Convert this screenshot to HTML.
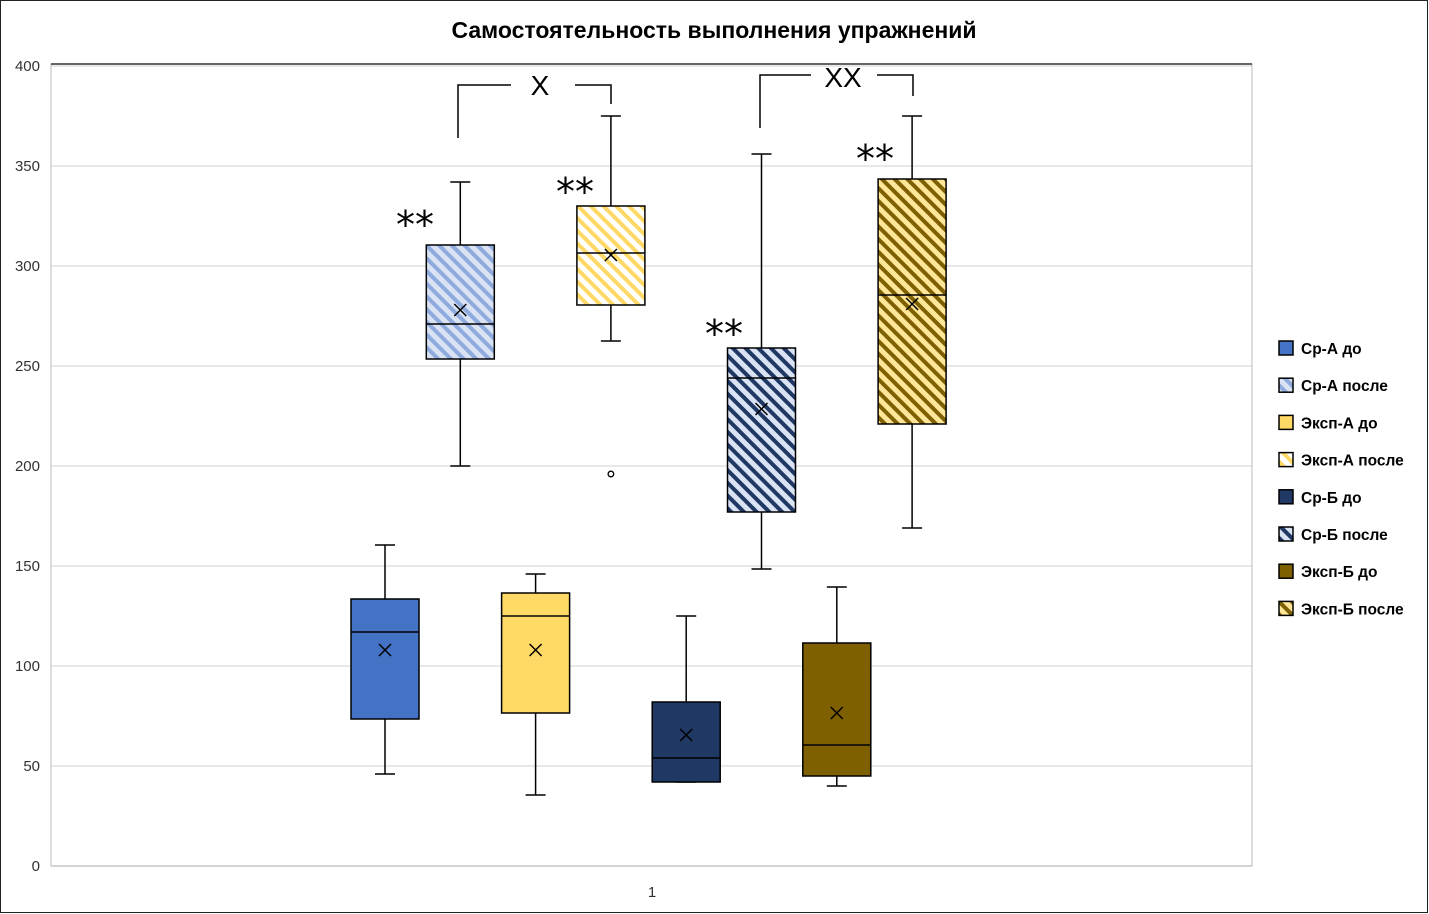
<!DOCTYPE html>
<html><head><meta charset="utf-8"><style>
body{margin:0;background:#fff}
svg{display:block;font-family:"Liberation Sans","DejaVu Sans",sans-serif}
</style></head><body>
<svg id="c" width="1429" height="914" viewBox="0 0 1429 914">
<defs>
<pattern id="hA" width="9" height="9" patternUnits="userSpaceOnUse" patternTransform="rotate(-45)"><rect width="9" height="9" fill="#DAE3F3"/><rect width="4" height="9" fill="#8FAADC"/></pattern>
<pattern id="hEA" width="9" height="9" patternUnits="userSpaceOnUse" patternTransform="rotate(-45)"><rect width="9" height="9" fill="#fff"/><rect width="4" height="9" fill="#FFD966"/></pattern>
<pattern id="hB" width="9" height="9" patternUnits="userSpaceOnUse" patternTransform="rotate(-45)"><rect width="9" height="9" fill="#DAE3F3"/><rect width="4" height="9" fill="#203864"/></pattern>
<pattern id="hEB" width="9" height="9" patternUnits="userSpaceOnUse" patternTransform="rotate(-45)"><rect width="9" height="9" fill="#FFE699"/><rect width="4" height="9" fill="#7F6000"/></pattern>
</defs>
<rect x="0.5" y="0.5" width="1427" height="912" fill="#fff" stroke="#222"/>
<text x="714" y="38" text-anchor="middle" font-size="23" font-weight="bold">Самостоятельность выполнения упражнений</text>
<g id="grid"></g>
<g id="boxes"></g>
<g id="legend"></g>
<g fill="none" stroke="#000" stroke-width="1.5">
<path d="M458,138 V85 H511 M575,85 H611 V104"/>
<path d="M760,128 V75 H811 M877,75 H913 V96"/>
</g>
<g font-size="28">
<text x="540" y="95" text-anchor="middle">X</text>
<text x="843" y="87" text-anchor="middle">XX</text>
<g font-family="DejaVu Sans, sans-serif" font-size="38">
<text x="415" y="238" text-anchor="middle">**</text>
<text x="575" y="205" text-anchor="middle">**</text>
<text x="724" y="347" text-anchor="middle">**</text>
<text x="875" y="172" text-anchor="middle">**</text>
</g>
</g>
</svg>
<script>
const seriesNames=["Ср-А до","Ср-А после","Эксп-А до","Эксп-А после","Ср-Б до","Ср-Б после","Эксп-Б до","Эксп-Б после"];
const minVals=[46,200,35.5,262.5,42,148.5,40,169];
const q1Vals=[73.5,253.5,76.5,280.5,42,177,45,221];
const medianVals=[117,271,125,306.5,54,244,60.5,285.5];
const q3Vals=[133.5,310.5,136.5,330,82,259,111.5,343.5];
const maxVals=[160.5,342,146,375,125,356,139.5,375];
const meanVals=[108,278,108,305.5,65.5,228.5,76.5,281];
const outliers=[[3,196]];
const yTicks=[0,50,100,150,200,250,300,350,400];
const fills=["#4472C4","url(#hA)","#FFD966","url(#hEA)","#203864","url(#hB)","#7F6000","url(#hEB)"];
const NS="http://www.w3.org/2000/svg";
const L=51,R=1252,T=66,B=866;
const y=v=>B-(v/400)*(B-T);
const xc=i=>385+i*75.3;
function mk(p,tag,a){const e=document.createElementNS(NS,tag);for(const k in a)e.setAttribute(k,a[k]);p.appendChild(e);return e;}
const g=document.getElementById('grid');
yTicks.forEach(t=>{
 const l=mk(g,'line',{x1:L,x2:R,y1:y(t),y2:y(t),stroke:t===0?'#bbb':'#d9d9d9','stroke-width':1.3});
 
 
 const tx=mk(g,'text',{x:40,y:y(t)+5,'text-anchor':'end','font-size':15,fill:'#333'});tx.textContent=t;
 
 
});
const pa=mk(g,'rect',{x:L,y:T-2,width:R-L,height:B-T+2,fill:'none',stroke:'#bbb'});


mk(g,'line',{x1:L,x2:R,y1:T-2,y2:T-2,stroke:'#333','stroke-width':1.5});
const xl=mk(g,'text',{x:652,y:897,'text-anchor':'middle','font-size':15,fill:'#333'});xl.textContent='1';


const bg=document.getElementById('boxes');
seriesNames.forEach((n,i)=>{
 const c=xc(i),w=34;
 const gr=mk(bg,'g',{stroke:'#000','stroke-width':1.5,fill:'none'});
 
 
 mk(gr,'line',{x1:c,x2:c,y1:y(maxVals[i]),y2:y(q3Vals[i])});
 mk(gr,'line',{x1:c,x2:c,y1:y(q1Vals[i]),y2:y(minVals[i])});
 mk(gr,'line',{x1:c-10,x2:c+10,y1:y(maxVals[i]),y2:y(maxVals[i])});
 mk(gr,'line',{x1:c-10,x2:c+10,y1:y(minVals[i]),y2:y(minVals[i])});
 mk(gr,'rect',{x:c-w,y:y(q3Vals[i]),width:2*w,height:y(q1Vals[i])-y(q3Vals[i]),fill:fills[i]});
 mk(gr,'line',{x1:c-w,x2:c+w,y1:y(medianVals[i]),y2:y(medianVals[i])});
 const m=y(meanVals[i]);
 mk(gr,'path',{d:`M${c-6},${m-6}L${c+6},${m+6}M${c+6},${m-6}L${c-6},${m+6}`});
});
outliers.forEach(o=>{
 const e=mk(bg,'circle',{cx:xc(o[0]),cy:y(o[1]),r:2.8,fill:'#fff',stroke:'#000','stroke-width':1.3});
 
 
});
const lg=document.getElementById('legend');
seriesNames.forEach((n,i)=>{
 const yy=348+i*37.2;
 const it=mk(lg,'g',{});
 
 
 mk(it,'rect',{x:1279,y:yy-7,width:14,height:14,fill:fills[i],stroke:'#000','stroke-width':1.5});
 const t=mk(it,'text',{x:1301,y:yy+6,'font-size':15.5,'font-weight':'bold'});t.textContent=n;
});
</script>
</body></html>
